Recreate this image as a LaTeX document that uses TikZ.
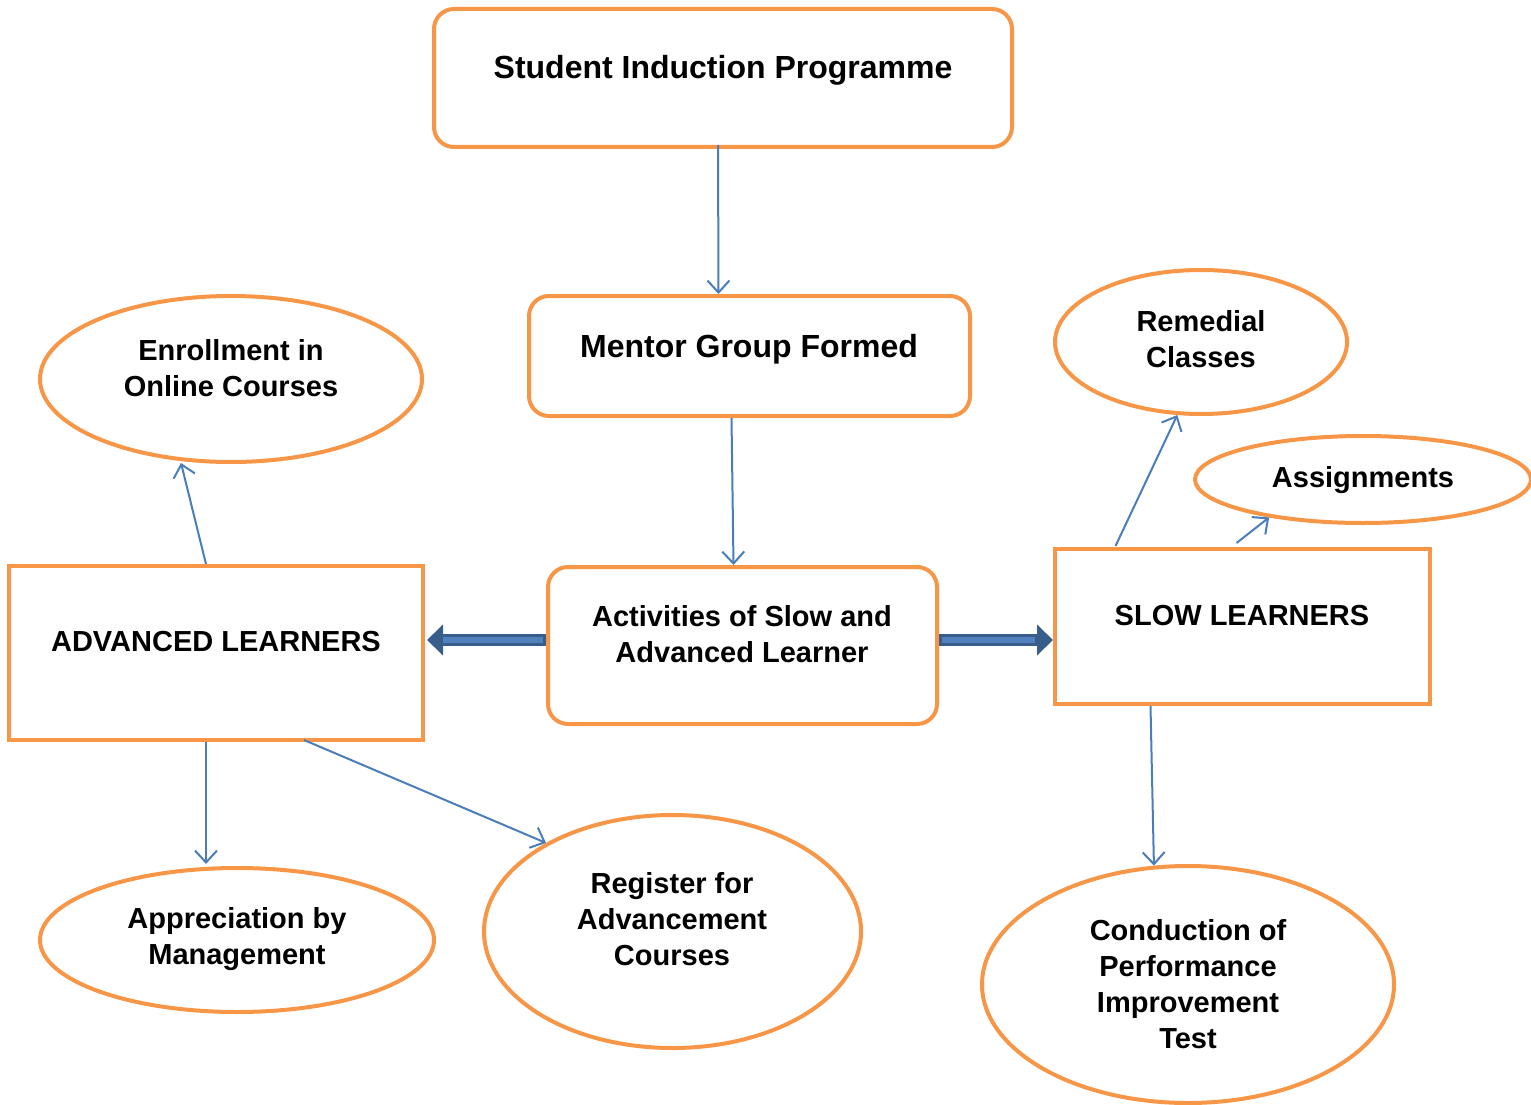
\documentclass[tikz,border=0pt]{standalone}
\usepackage{fontspec}
\setmainfont{Liberation Sans}
\usetikzlibrary{arrows.meta,shapes.geometric,calc}
\definecolor{orng}{HTML}{F79646}
\definecolor{thin}{HTML}{4A7EBB}
\definecolor{darkb}{HTML}{385D8A}
\definecolor{lightb}{HTML}{4F81BD}
\tikzset{
  rbox/.style={draw=orng, line width=4, rounded corners=20, inner sep=0},
  sbox/.style={draw=orng, line width=4, inner sep=0},
  ell/.style={draw=orng, line width=4, ellipse, inner sep=0},
  lbl/.style={font=\bfseries\fontsize{29}{36}\selectfont, align=center, inner sep=0},
  biglbl/.style={font=\bfseries\fontsize{32}{38}\selectfont, align=center, inner sep=0},
  conn/.style={draw=thin, line width=2, -{Straight Barb[length=12,width=22,line width=2]}},
  bigdark/.style={draw=darkb, line width=12, -{Triangle[length=16,width=30]}},
  biglight/.style={draw=lightb, line width=6},
}
\begin{document}
\begin{tikzpicture}[x=1pt,y=-1pt]
\useasboundingbox (0,0) rectangle (1531,1105);
% boxes
\node[rbox, minimum width=578, minimum height=138] (top) at (723,78) {};
\node[rbox, minimum width=441, minimum height=120] (mentor) at (749.5,356) {};
\node[rbox, minimum width=389, minimum height=157] (act) at (742.5,645.5) {};
\node[sbox, minimum width=414, minimum height=174] (adv) at (216,653) {};
\node[sbox, minimum width=375, minimum height=155] (slow) at (1242.5,626.5) {};
% ellipses
\node[ell, minimum width=382, minimum height=166] (enr) at (231,379) {};
\node[ell, minimum width=292, minimum height=144] (rem) at (1201,342) {};
\node[ell, minimum width=336, minimum height=87] (asg) at (1363,479.5) {};
\node[ell, minimum width=394, minimum height=144] (app) at (237,940) {};
\node[ell, minimum width=377, minimum height=233] (reg) at (672.5,931.5) {};
\node[ell, minimum width=412, minimum height=237] (cond) at (1188,984.5) {};
% texts
\node[biglbl] (ttop) at (723,70) {Student Induction Programme};
\node[biglbl] (tmentor) at (749,349) {Mentor Group Formed};
\node[lbl] (tact) at (742,634) {Activities of Slow and\\Advanced Learner};
\node[lbl] (tadv) at (216,642) {ADVANCED LEARNERS};
\node[lbl] (tslow) at (1242,616) {SLOW LEARNERS};
\node[lbl] (tenr) at (231,368) {Enrollment in\\Online Courses};
\node[lbl] (trem) at (1201,339) {Remedial\\Classes};
\node[lbl] (tasg) at (1363,480) {Assignments};
\node[lbl] (tapp) at (237,939) {Appreciation by\\Management};
\node[lbl] (treg) at (672,919) {Register for\\Advancement\\Courses};
\node[lbl] (tcond) at (1188,984) {Conduction of\\Performance\\Improvement\\Test};
% thin connectors
\draw[conn] ([xshift=-5,yshift=4]top.south) -- ([xshift=-31]mentor.north);
\draw[conn] ([xshift=-18]mentor.south) -- ([xshift=-9]act.north);
\draw[conn] ([xshift=-10]adv.north) -- ([xshift=-50,yshift=1]enr.south);
\draw[conn] ([xshift=-10]adv.south) -- ([xshift=-31,yshift=2]app.north);
\draw[conn] ([xshift=88,yshift=2]adv.south) -- (reg.145);
\draw[conn] ([xshift=-127,yshift=1]slow.north) -- (rem.252);
\draw[conn] ([xshift=-6,yshift=4]slow.north) -- (asg.202);
\draw[conn] ([xshift=-92]slow.south) -- (cond.106);
% thick connectors
\draw[bigdark] ([yshift=5.5]act.west) -- ([yshift=5.5,xshift=2]act.west -| adv.east);
\draw[biglight] ([yshift=5.5,xshift=-3]act.west) -- ([yshift=5.5,xshift=18]act.west -| adv.east);
\draw[bigdark] ([yshift=5.5]act.east) -- ([yshift=5.5]act.east -| slow.west);
\draw[biglight] ([yshift=5.5,xshift=3]act.east) -- ([yshift=5.5,xshift=-18]act.east -| slow.west);
\end{tikzpicture}
\end{document}
